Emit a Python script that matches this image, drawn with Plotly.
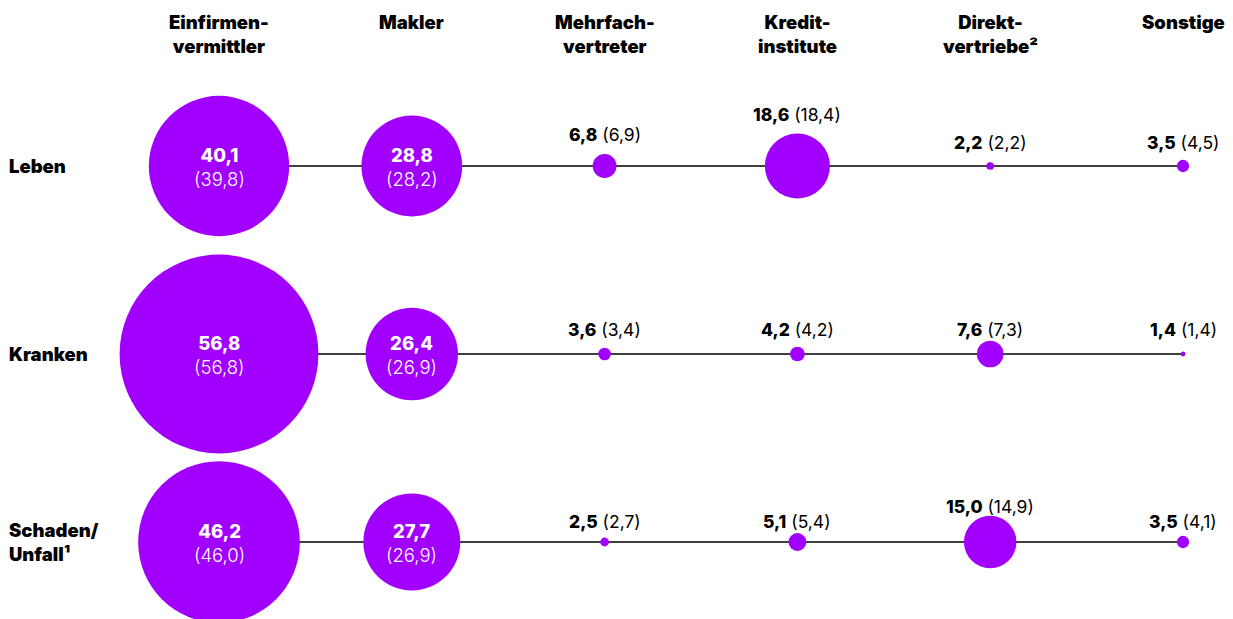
import plotly.graph_objects as go

# ---- data ----
channels = ["Einfirmen-<br>vermittler", "Makler", "Mehrfach-<br>vertreter",
            "Kredit-<br>institute", "Direkt-<br>vertriebe²", "Sonstige"]
segments = ["Leben", "Kranken", "Schaden/<br>Unfall¹"]

leben_now = [40.1, 28.8, 6.8, 18.6, 2.2, 3.5]
leben_prev = [39.8, 28.2, 6.9, 18.4, 2.2, 4.5]
kranken_now = [56.8, 26.4, 3.6, 4.2, 7.6, 1.4]
kranken_prev = [56.8, 26.9, 3.4, 4.2, 7.3, 1.4]
schaden_now = [46.2, 27.7, 2.5, 5.1, 15.0, 3.5]
schaden_prev = [46.0, 26.9, 2.7, 5.4, 14.9, 4.1]

now_rows = [leben_now, kranken_now, schaden_now]
prev_rows = [leben_prev, kranken_prev, schaden_prev]

# ---- styling / placement ----
PURPLE = "#A100FF"
FONT = "Inter"
PX_PER_UNIT = 3.5          # bubble diameter in px per percentage point
INSIDE_MIN = 20            # values >= this get their label inside the bubble
label_lift = [             # px from bubble centre to outside-label centre
    [0, 0, 32, 52, 24, 24],
    [0, 0, 25, 25, 25, 25],
    [0, 0, 21, 21, 36, 21],
]

W, H = 1233, 619
col_px = 192.8
row_px = 188.0
x0_px, y0_px = 219, 166

def fmt(v):
    return f"{v:.1f}".replace(".", ",")

def heavy(s):
    return f'<span style="font-weight:800">{s}</span>'

fig = go.Figure()
xs = list(range(len(channels)))

for r, (now, prev) in enumerate(zip(now_rows, prev_rows)):
    fig.add_trace(go.Scatter(x=[xs[0], xs[-1]], y=[r, r], mode="lines",
                             line=dict(color="black", width=1.3),
                             hoverinfo="skip", showlegend=False))
for r, (now, prev) in enumerate(zip(now_rows, prev_rows)):
    fig.add_trace(go.Scatter(x=xs, y=[r] * len(xs), mode="markers",
                             marker=dict(size=[v * PX_PER_UNIT for v in now],
                                         sizemode="diameter", color=PURPLE,
                                         line=dict(width=0), opacity=1),
                             showlegend=False, hoverinfo="skip"))
    for c, (vn, vp) in enumerate(zip(now, prev)):
        if vn >= INSIDE_MIN:
            fig.add_annotation(x=c, y=r, xref="x", yref="y", showarrow=False,
                               text=f"{heavy(fmt(vn))}<br>({fmt(vp)})",
                               font=dict(family=FONT, size=18.5, color="white",
                                         weight=300),
                               xanchor="center", yanchor="middle", yshift=-1)
        else:
            fig.add_annotation(x=c, y=r, xref="x", yref="y", showarrow=False,
                               text=f"{heavy(fmt(vn))} ({fmt(vp)})",
                               font=dict(family=FONT, size=17.5, color="black",
                                         weight=400),
                               xanchor="center", yanchor="middle",
                               yshift=label_lift[r][c])

for c, name in enumerate(channels):
    fig.add_annotation(x=c, y=1, xref="x", yref="paper", showarrow=False,
                       text=name, align="center",
                       font=dict(family=FONT, size=18.5, color="black", weight=900),
                       xanchor="center", yanchor="top", yshift=-9)

for r, name in enumerate(segments):
    fig.add_annotation(x=0, y=r, xref="paper", yref="y", showarrow=False,
                       text=name, align="left",
                       font=dict(family=FONT, size=18.5, color="black", weight=900),
                       xanchor="left", yanchor="middle", xshift=7)

x_lo = -x0_px / col_px
x_hi = x_lo + W / col_px
y_top = -y0_px / row_px
y_bot = y_top + H / row_px

fig.update_layout(
    width=W, height=H, margin=dict(l=0, r=0, t=0, b=0),
    paper_bgcolor="white", plot_bgcolor="white",
    xaxis=dict(range=[x_lo, x_hi], visible=False, fixedrange=True),
    yaxis=dict(range=[y_bot, y_top], visible=False, fixedrange=True),
    font=dict(family=FONT),
)
fig.write_html("out.html")
